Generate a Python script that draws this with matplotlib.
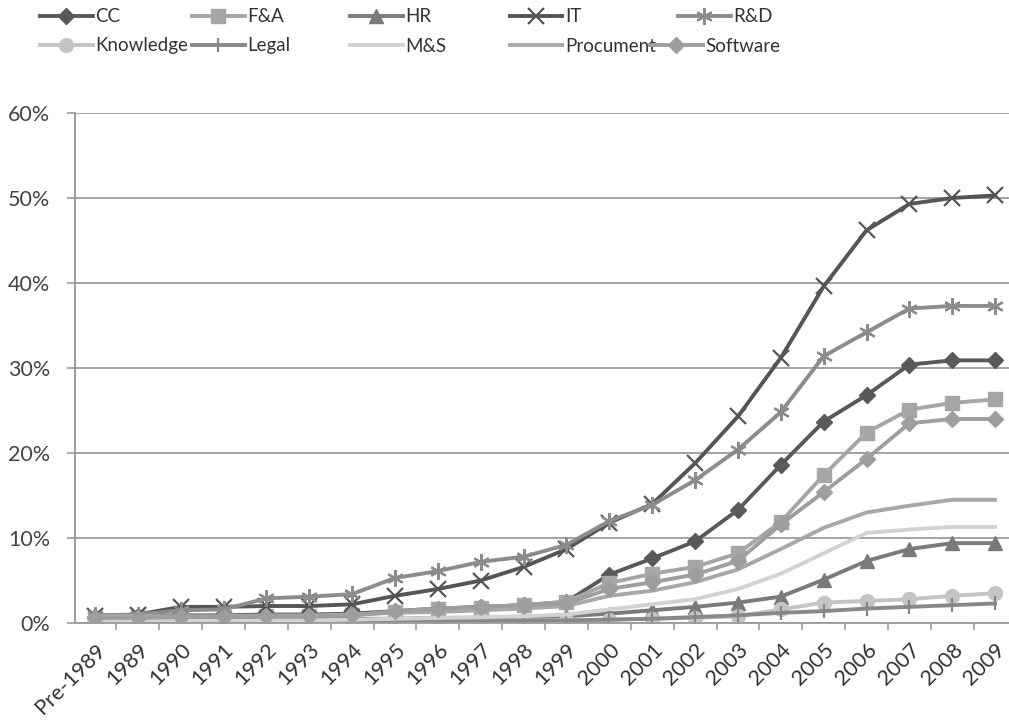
import numpy as np
import matplotlib.pyplot as plt

plt.rcParams['font.family'] = ['Lato', 'DejaVu Sans']

years = ["Pre-1989"] + [str(y) for y in range(1989, 2010)]

# share of firms (%) per function, cumulative
cc = [0.7, 0.8, 0.9, 0.9, 1.0, 1.0, 1.1, 1.4, 1.7, 1.9, 2.1, 2.5,
      5.7, 7.6, 9.6, 13.3, 18.6, 23.7, 26.8, 30.4, 30.9, 30.9]
fa = [0.6, 0.6, 0.7, 0.7, 0.8, 0.8, 0.9, 1.3, 1.6, 1.8, 2.1, 2.5,
      4.7, 5.8, 6.6, 8.2, 11.9, 17.4, 22.4, 25.1, 25.9, 26.3]
hr = [0.5, 0.5, 0.5, 0.5, 0.5, 0.5, 0.5, 0.5, 0.6, 0.6, 0.7, 0.8,
      1.1, 1.5, 1.9, 2.4, 3.1, 5.1, 7.3, 8.7, 9.4, 9.4]
it = [0.8, 1.0, 1.9, 1.9, 2.0, 2.0, 2.2, 3.2, 4.0, 5.0, 6.6, 8.7,
      11.8, 14.0, 18.8, 24.3, 31.2, 39.6, 46.2, 49.3, 50.0, 50.3]
rd = [0.9, 1.0, 1.5, 1.6, 2.9, 3.1, 3.4, 5.3, 6.1, 7.2, 7.8, 9.2,
      12.0, 13.9, 16.8, 20.4, 24.8, 31.4, 34.2, 37.0, 37.3, 37.3]
knowledge = [0.2, 0.2, 0.2, 0.2, 0.2, 0.2, 0.2, 0.2, 0.2, 0.3, 0.3, 0.3,
             0.4, 0.5, 0.6, 0.8, 1.6, 2.4, 2.6, 2.8, 3.2, 3.5]
legal = [0.1, 0.1, 0.1, 0.1, 0.1, 0.1, 0.1, 0.2, 0.2, 0.2, 0.3, 0.3,
         0.4, 0.5, 0.7, 0.9, 1.2, 1.4, 1.7, 1.9, 2.1, 2.3]
ms = [0.3, 0.3, 0.3, 0.3, 0.3, 0.3, 0.4, 0.5, 0.6, 0.7, 0.8, 1.0,
      1.6, 2.2, 2.8, 4.0, 5.8, 8.2, 10.6, 11.0, 11.3, 11.3]
procument = [0.8, 0.8, 0.8, 0.8, 0.9, 0.9, 1.0, 1.2, 1.3, 1.5, 1.7, 2.0,
             3.2, 3.8, 4.8, 6.3, 8.7, 11.2, 13.0, 13.8, 14.5, 14.5]
software = [0.6, 0.6, 0.7, 0.7, 0.8, 0.8, 0.9, 1.4, 1.7, 1.9, 2.1, 2.3,
            4.0, 4.8, 5.7, 7.3, 11.6, 15.4, 19.3, 23.5, 24.0, 24.0]

series = [
    ("CC", cc, "#595959", "D", 8),
    ("F&A", fa, "#a6a6a6", "s", 10),
    ("HR", hr, "#7a7a7a", "^", 10),
    ("IT", it, "#555555", "x", 11),
    ("R&D", rd, "#8c8c8c", (6, 2, 0), 12),
    ("Knowledge", knowledge, "#c4c4c4", "o", 10),
    ("Legal", legal, "#888888", "|", 10),
    ("M&S", ms, "#d2d2d2", None, 0),
    ("Procument", procument, "#a8a8a8", None, 0),
    ("Software", software, "#9e9e9e", "D", 8),
]

fig = plt.figure(figsize=(10.09, 7.22), dpi=100)
ax = fig.add_axes([0.0743, 0.1371, 0.9346, 0.7064])

x = np.arange(len(years))
handles = []
for name, vals, col, mk, sz in series:
    mew = 1.6 if mk in ("x", (6, 2, 0), "|") else 1
    line, = ax.plot(x, vals, color=col, lw=2.8, marker=mk, markersize=sz,
                    markeredgewidth=mew, markeredgecolor=col, markerfacecolor=col,
                    label=name)
    handles.append(line)

ax.set_xlim(-0.467, 21.533)
ax.set_ylim(0, 60)
ax.set_yticks(range(0, 61, 10))
ax.set_yticklabels([f"{v}%" for v in range(0, 61, 10)])
ax.yaxis.grid(True, color="#9c9c9c", lw=1.3)
ax.set_axisbelow(True)

ax.set_xticks(x)
ax.set_xticklabels(years, rotation=45, ha="right", rotation_mode="anchor")
ax.set_xticks(x[:-1] + 0.5, minor=True)
ax.tick_params(axis="x", which="major", length=0, pad=12, labelsize=15.5, colors="#333333")
ax.tick_params(axis="x", which="minor", length=5, width=1.2, color="#9c9c9c")
ax.tick_params(axis="y", length=6, width=1.2, color="#9c9c9c", labelsize=15.5,
               labelcolor="#444444", pad=12)

for s in ("top", "right"):
    ax.spines[s].set_visible(False)
ax.spines["left"].set_color("#9c9c9c")
ax.spines["left"].set_linewidth(1.5)
ax.spines["bottom"].set_color("#9c9c9c")
ax.spines["bottom"].set_linewidth(1.3)

# legend entries placed like the Excel layout (two rows)
W, H = 1009, 722
legend_pos = [(40, 17), (192, 17), (350, 17), (510, 17), (678, 17),
              (40, 46), (192, 46), (350, 46), (510, 46), (650, 46)]
for h, (px, py) in zip(handles, legend_pos):
    fig.legend(handles=[h], loc="center left", bbox_to_anchor=(px / W, 1 - py / H),
               frameon=False, fontsize=13.5, handlelength=2.8, handletextpad=0.15,
               borderpad=0, borderaxespad=0, labelcolor="#333333")

fig.savefig("out.png", dpi=100)
